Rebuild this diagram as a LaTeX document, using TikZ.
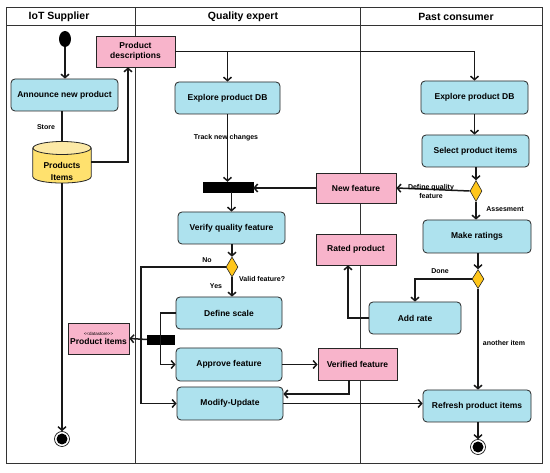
\documentclass[tikz,border=0pt]{standalone}
\usepackage{fontspec}
\setmainfont{Liberation Sans}
\usetikzlibrary{arrows.meta,shapes.geometric,calc}
\definecolor{boxblue}{HTML}{AEE2EE}
\definecolor{boxpink}{HTML}{F8B4CB}
\definecolor{dbbody}{HTML}{FFE16E}
\definecolor{dbtop}{HTML}{FCE9A6}
\definecolor{decis}{HTML}{FFC61A}
\definecolor{lanec}{HTML}{333333}
\tikzset{
  act/.style={draw=black!85, line width=0.8pt, fill=boxblue, rounded corners=4pt, font=\fontsize{8.5}{10}\selectfont\bfseries, inner sep=1pt, align=center},
  obj/.style={draw=black!85, line width=0.8pt, fill=boxpink, font=\fontsize{8.5}{10}\selectfont\bfseries, inner sep=1pt, align=center},
  decision/.style={diamond, draw=black!85, line width=0.6pt, fill=decis, inner sep=0pt, minimum width=12pt, minimum height=20pt},
  forkbar/.style={fill=black, draw=black, inner sep=0pt},
  conn/.style={line width=1.5pt, draw=black!90},
  arr/.style={conn, -{Straight Barb[length=3.5pt,width=8pt]}},
  lbl/.style={font=\fontsize{7}{8}\selectfont\bfseries, inner sep=0pt, align=center},
  hdr/.style={font=\fontsize{10.5}{12}\selectfont\bfseries, inner sep=0pt},
  lane/.style={line width=1pt, draw=lanec}
}
\begin{document}
\begin{tikzpicture}[x=1pt,y=-1pt]
\useasboundingbox[fill=white] (0,0) rectangle (550,473);
% swimlanes
\draw[lane] (6,8) rectangle (542,464);
\draw[lane] (6,26) -- (542,26);
\draw[lane] (135,8) -- (135,464);
\draw[lane] (360,8) -- (360,464);
\node[hdr] (h1) at (59,17) {IoT Supplier};
\node[hdr] (h2) at (243,17) {Quality expert};
\node[hdr] (h3) at (456,17) {Past consumer};

% start / end
\node[ellipse, fill=black, inner sep=0pt, minimum width=12pt, minimum height=16pt] (start) at (65,39) {};
\node[circle, draw=black, line width=0.6pt, fill=white, inner sep=0pt, minimum size=15pt] (end1) at (62,439) {};
\fill[black] (end1.center) circle (5.5);
\node[circle, draw=black, line width=0.6pt, fill=white, inner sep=0pt, minimum size=15pt] (end2) at (478,447) {};
\fill[black] (end2.center) circle (5.5);

% supplier lane
\node[act, minimum width=107pt, minimum height=32pt] (ann) at (64.5,95) {Announce new product};
% cylinder (data store)
\node[inner sep=0pt, minimum width=58pt, minimum height=42pt] (db) at (62,162) {};
\fill[dbbody, draw=black!85, line width=0.8pt] (db.west |- 0,148) -- (db.west |- 0,176.5) .. controls (33,185.2) and (91,185.2) .. (db.east |- 0,176.5) -- (db.east |- 0,148) -- cycle;
\filldraw[fill=dbtop, draw=black!85, line width=0.8pt] (db.center |- 0,148) ellipse [x radius=29, y radius=6.5];
\node[font=\fontsize{8.5}{12.5}\selectfont\bfseries, align=center, inner sep=0pt] (dbtxt) at (62,171.5) {Products\\Items};

\node[obj, minimum width=79pt, minimum height=31pt] (pd) at (135.5,51.5) {Product\\descriptions};
\node[obj, minimum width=61pt, minimum height=31pt] (pi) at (98.5,338.5) {{\fontsize{4.5}{5}\selectfont\mdseries <{}<datastore>{}>}\\[-1pt]Product items};

% quality expert lane
\node[act, minimum width=105pt, minimum height=32pt] (exL) at (227.5,98) {Explore product DB};
\node[forkbar, minimum width=50pt, minimum height=10pt] (bar1) at (228,187) {};
\node[act, minimum width=107pt, minimum height=32pt] (ver) at (231.5,228) {Verify quality feature};
\node[decision] (d2) at (232,267) {};
\node[act, minimum width=106pt, minimum height=32pt] (ds) at (229,313) {Define scale};
\node[act, minimum width=106pt, minimum height=33pt] (ap) at (229,364.5) {Approve feature};
\node[act, minimum width=106pt, minimum height=33pt] (mu) at (230,403.5) {Modify-Update};
\node[forkbar, minimum width=27pt, minimum height=9pt] (bar2) at (160.5,339.5) {};
\node[obj, minimum width=80pt, minimum height=30pt] (nf) at (356,188) {New feature};
\node[obj, minimum width=80pt, minimum height=31pt] (rp) at (356,249.5) {Rated product};
\node[obj, minimum width=79pt, minimum height=32pt] (vf) at (357.5,364) {Verified feature};

% consumer lane
\node[act, minimum width=107pt, minimum height=33pt] (exR) at (474.5,97.5) {Explore product DB};
\node[act, minimum width=107pt, minimum height=32pt] (sel) at (475.5,151) {Select product items};
\node[decision, minimum height=21pt] (d1) at (476,191) {};
\node[act, minimum width=108pt, minimum height=33pt] (mr) at (477,236.5) {Make ratings};
\node[decision, minimum height=19pt] (d3) at (478,279) {};
\node[act, minimum width=92pt, minimum height=32pt] (ar) at (415,318) {Add rate};
\node[act, minimum width=108pt, minimum height=32pt] (rf) at (477,406) {Refresh product items};

\coordinate (nx) at (141,267);

% connectors
\draw[arr] (start) -- (start |- ann.north);
\draw[conn] (db.north |- ann.south) -- (db.north);
\node[lbl] (store) at (46,127) {Store};
\draw[arr] (db.east) -| ([xshift=-7.5pt]pd.south);
\draw[arr] (pd.east) -| (exR.north);
\draw[arr] (pd.east -| exL.north) -- (exL.north);
\draw[arr] (exL.south) -- (exL.south |- bar1.north);
\node[lbl] (track) at (226,138) {Track new changes};
\draw[arr] (bar1.south -| ver.north) -- (ver.north);
\draw[arr] (exR.south) -- (exR.south |- sel.north);
\draw[arr] (sel.south -| d1.north) -- (d1.north);
\draw[arr] (d1.west) -- (nf.east);
\node[lbl] (dq) at (431,191.5) {Define quality\\[1pt]feature};
\draw[arr] (d1.south) -- (d1.south |- mr.north);
\node[lbl] (ass) at (505,209) {Assesment};
\draw[arr] (nf.west) -- (nf.west -| bar1.east);
\draw[arr] (ver.south -| d2.north) -- (d2.north);
\draw[arr] (d2.west) -- (nx) |- (mu.west);
\node[lbl] (no) at (207,260) {No};
\draw[arr] (d2.south) -- (d2.south |- ds.north);
\node[lbl] (yes) at (216,286) {Yes};
\node[lbl, anchor=west] (vq) at (239,278.5) {Valid feature?};
\draw[arr] (ds.west) -| (bar2.center) |- (ap.west);
\draw[arr] (bar2.west) -- (pi.east);
\draw[arr] (ap.east) -- (ap.east -| vf.west);
\draw[arr] ([xshift=-8.5pt]vf.south) |- ([yshift=9.5pt]mu.east);
\draw[arr] (mu.east) -- (mu.east -| rf.west);
\draw[arr] (mr.south -| d3.north) -- (d3.north);
\draw[arr] (d3.west) -| (ar.north);
\node[lbl] (done) at (440,271) {Done};
\draw[arr] (d3.south) -- (d3.south |- rf.north);
\node[lbl] (another) at (504,343) {another item};
\draw[arr] (ar.west) -| ([xshift=-8pt]rp.south);
\draw[arr] (rf.south -| end2.north) -- (end2.north);
\draw[arr] (db.south) -- (end1.north);
\end{tikzpicture}
\end{document}
